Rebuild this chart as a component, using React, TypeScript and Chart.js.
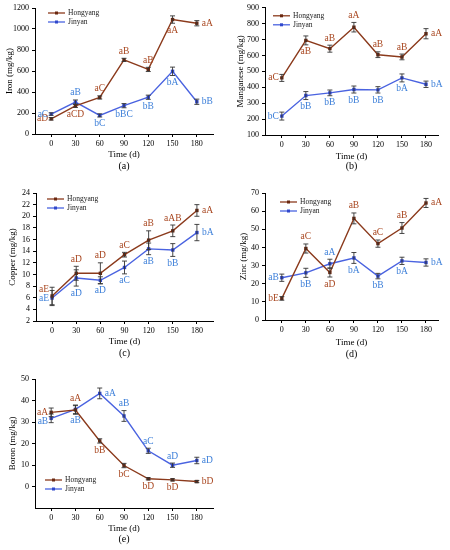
import { useEffect, useRef } from "react"
import { Chart, registerables, Plugin } from "chart.js"

Chart.register(...registerables)

const FONT = '"Liberation Serif", "Times New Roman", serif'

const days = [0, 30, 60, 90, 120, 150, 180]
const seriesNames = ["Hongyang", "Jinyan"]

// Iron (mg/kg)
const ironHongyang = [145, 268, 348, 706, 615, 1090, 1055]
const ironHongyangErr = [12, 15, 15, 15, 20, 35, 25]
const ironHongyangSig = ["aD", "aCD", "aC", "aB", "aB", "aA", "aA"]
const ironJinyan = [190, 304, 177, 270, 350, 597, 307]
const ironJinyanErr = [12, 20, 15, 20, 20, 40, 25]
const ironJinyanSig = ["aC", "aB", "bC", "bBC", "bB", "bA", "bB"]
const ironTicks = [0, 200, 400, 600, 800, 1000, 1200]

// Manganese (mg/kg)
const mnHongyang = [459, 695, 643, 778, 605, 591, 737]
const mnHongyangErr = [22, 28, 22, 30, 18, 18, 32]
const mnHongyangSig = ["aC", "aB", "aB", "aA", "aB", "aB", "aA"]
const mnJinyan = [219, 348, 365, 386, 384, 459, 419]
const mnJinyanErr = [25, 25, 18, 22, 20, 25, 20]
const mnJinyanSig = ["bC", "bB", "bB", "bB", "bB", "bA", "bA"]
const mnTicks = [100, 200, 300, 400, 500, 600, 700, 800, 900]

// Copper (mg/kg)
const cuHongyang = [6.3, 10.2, 10.2, 13.4, 15.9, 17.5, 21.0]
const cuHongyangErr = [1.5, 1.2, 1.8, 0.4, 1.6, 1.0, 1.0]
const cuHongyangSig = ["aE", "aD", "aD", "aC", "aB", "aAB", "aA"]
const cuJinyan = [5.95, 9.4, 9.0, 11.2, 14.4, 14.2, 17.2]
const cuJinyanErr = [1.3, 1.4, 0.6, 1.1, 1.0, 1.1, 1.4]
const cuJinyanSig = ["aE", "aD", "aD", "aC", "aB", "bB", "bA"]
const cuTicks = [2, 4, 6, 8, 10, 12, 14, 16, 18, 20, 22, 24]

// Zinc (mg/kg)
const znHongyang = [11.9, 39.4, 26.2, 56.0, 42.1, 50.7, 64.5]
const znHongyangErr = [1, 2.5, 2.5, 3, 2, 3, 2.5]
const znHongyangSig = ["bE", "aC", "aD", "aB", "aC", "aB", "aA"]
const znJinyan = [23.3, 26.0, 31.0, 34.2, 24.2, 32.6, 31.7]
const znJinyanErr = [2, 2.5, 2.5, 3, 1.5, 2, 2]
const znJinyanSig = ["aB", "bB", "aA", "bA", "bB", "bA", "bA"]
const znTicks = [0, 10, 20, 30, 40, 50, 60, 70]

// Boron (mg/kg)
const bHongyang = [34.5, 35.6, 21.2, 9.75, 3.6, 3.1, 2.3]
const bHongyangErr = [2, 2, 1, 1, 0.5, 0.5, 0.5]
const bHongyangSig = ["aA", "aA", "bB", "bC", "bD", "bD", "bD"]
const bJinyan = [31.7, 35.9, 43.3, 32.8, 16.6, 9.9, 12.1]
const bJinyanErr = [2, 2, 2.5, 2.5, 1.2, 1, 1.5]
const bJinyanSig = ["aB", "aB", "aA", "aB", "aC", "aD", "aD"]
const bTicks = [0, 10, 20, 30, 40, 50]

const hongyangLine = "#8b3a1c"
const hongyangMark = "#6a2810"
const hongyangText = "#a8461f"
const jinyanLine = "#4a63e0"
const jinyanMark = "#3048cc"
const jinyanText = "#3c7fd9"

// where each letter label sits around its point
type Place = "left" | "upleft" | "downleft" | "right" | "above" | "below"

const errorBars: Plugin<"line"> = {
  id: "errorBars",
  afterDatasetsDraw(chart) {
    const { ctx } = chart
    const yScale = chart.scales.y
    ctx.save()
    ctx.strokeStyle = "#333"
    ctx.lineWidth = 0.9
    chart.data.datasets.forEach((ds: any, i) => {
      const meta = chart.getDatasetMeta(i)
      meta.data.forEach((pt, j) => {
        const v = ds.data[j].y
        const e = ds.errors[j]
        const top = yScale.getPixelForValue(v + e)
        const bot = yScale.getPixelForValue(v - e)
        const x = pt.x
        ctx.beginPath()
        ctx.moveTo(x, top)
        ctx.lineTo(x, bot)
        ctx.moveTo(x - 2.5, top)
        ctx.lineTo(x + 2.5, top)
        ctx.moveTo(x - 2.5, bot)
        ctx.lineTo(x + 2.5, bot)
        ctx.stroke()
      })
    })
    ctx.restore()
  },
}

const sigLabels: Plugin<"line"> = {
  id: "sigLabels",
  afterDatasetsDraw(chart) {
    const { ctx } = chart
    const yScale = chart.scales.y
    ctx.save()
    ctx.font = `9.5px ${FONT}`
    ctx.textBaseline = "middle"
    chart.data.datasets.forEach((ds: any, i) => {
      const meta = chart.getDatasetMeta(i)
      ctx.fillStyle = ds.sigColor
      meta.data.forEach((pt, j) => {
        const v = ds.data[j].y
        const e = ds.errors[j]
        const errPx = Math.abs(yScale.getPixelForValue(v + e) - pt.y)
        const place: Place = ds.sigPlace[j]
        let x = pt.x
        let y = pt.y
        if (place === "left" || place === "upleft" || place === "downleft") {
          ctx.textAlign = "right"
          x -= 3
          if (place === "upleft") y -= 6
          if (place === "downleft") y += 3
        } else if (place === "right") {
          ctx.textAlign = "left"
          x += 5
        } else if (place === "above") {
          ctx.textAlign = "center"
          y -= errPx + 7
        } else {
          ctx.textAlign = "center"
          y += errPx + 7
        }
        ctx.fillText(ds.sig[j], x, y)
      })
    })
    ctx.restore()
  },
}

const cornerLegend: Plugin<"line"> = {
  id: "cornerLegend",
  afterDraw(chart, _args, opts: any) {
    const { ctx, chartArea } = chart
    const x0 = chartArea.left + opts.dx
    let y = chartArea.top + opts.dy
    ctx.save()
    chart.data.datasets.forEach((ds: any) => {
      ctx.strokeStyle = ds.borderColor
      ctx.lineWidth = 1.3
      ctx.beginPath()
      ctx.moveTo(x0, y)
      ctx.lineTo(x0 + 17, y)
      ctx.stroke()
      ctx.fillStyle = ds.pointBackgroundColor
      ctx.fillRect(x0 + 7, y - 1.5, 3, 3)
      ctx.fillStyle = "#222"
      ctx.font = `7.5px ${FONT}`
      ctx.textAlign = "left"
      ctx.textBaseline = "middle"
      ctx.fillText(ds.label, x0 + 20, y)
      y += 9
    })
    ctx.restore()
  },
}

interface PanelProps {
  yTitle: string
  caption: string
  hongyang: number[]
  hongyangErr: number[]
  hongyangSig: string[]
  hongyangPlace: Place[]
  jinyan: number[]
  jinyanErr: number[]
  jinyanSig: string[]
  jinyanPlace: Place[]
  yTicks: number[]
  yMin: number
  yMax: number
  xMin: number
  xMax: number
  box: { left: number; top: number; width: number; height: number }
  area: { left: number; top: number; right: number; bottom: number }
  yTitlePad: number
  xTitlePad: number
  legend: { dx: number; dy: number }
  captionY: number
}

function Panel(p: PanelProps) {
  const canvasRef = useRef<HTMLCanvasElement>(null)

  useEffect(() => {
    if (!canvasRef.current) return
    const toPoints = (vals: number[]) => days.map((d, i) => ({ x: d, y: vals[i] }))

    const chart = new Chart(canvasRef.current, {
      type: "line",
      data: {
        datasets: [
          {
            label: seriesNames[0],
            data: toPoints(p.hongyang),
            borderColor: hongyangLine,
            borderWidth: 1.4,
            pointStyle: "rect",
            pointRadius: 2.4,
            pointBackgroundColor: hongyangMark,
            pointBorderColor: hongyangMark,
            pointBorderWidth: 0,
            errors: p.hongyangErr,
            sig: p.hongyangSig,
            sigPlace: p.hongyangPlace,
            sigColor: hongyangText,
          } as any,
          {
            label: seriesNames[1],
            data: toPoints(p.jinyan),
            borderColor: jinyanLine,
            borderWidth: 1.4,
            pointStyle: "rect",
            pointRadius: 2.4,
            pointBackgroundColor: jinyanMark,
            pointBorderColor: jinyanMark,
            pointBorderWidth: 0,
            errors: p.jinyanErr,
            sig: p.jinyanSig,
            sigPlace: p.jinyanPlace,
            sigColor: jinyanText,
          } as any,
        ],
      },
      options: {
        responsive: false,
        animation: false,
        events: [],
        layout: {
          padding: { left: 0, top: p.area.top, right: p.box.width - p.area.right, bottom: 0 },
        },
        plugins: {
          legend: { display: false },
          tooltip: { enabled: false },
          cornerLegend: p.legend,
        } as any,
        scales: {
          x: {
            type: "linear",
            min: p.xMin,
            max: p.xMax,
            afterBuildTicks: (s: any) => {
              s.ticks = days.map((v) => ({ value: v }))
            },
            afterFit: (s: any) => {
              s.height = p.box.height - p.area.bottom
            },
            grid: { display: true, drawOnChartArea: false, drawTicks: true, tickLength: 3, color: "#000" },
            border: { display: true, color: "#000", width: 1 },
            ticks: {
              font: { family: FONT, size: 8 },
              color: "#000",
              padding: 2,
              maxRotation: 0,
              autoSkip: false,
              callback: (v: any) => String(v),
            },
            title: {
              display: true,
              text: "Time (d)",
              font: { family: FONT, size: 9 },
              color: "#000",
              padding: { top: 0, bottom: p.xTitlePad },
            },
          },
          y: {
            min: p.yMin,
            max: p.yMax,
            afterBuildTicks: (s: any) => {
              s.ticks = p.yTicks.map((v) => ({ value: v }))
            },
            afterFit: (s: any) => {
              s.width = p.area.left
            },
            grid: { display: true, drawOnChartArea: false, drawTicks: true, tickLength: 3, color: "#000" },
            border: { display: true, color: "#000", width: 1 },
            ticks: {
              font: { family: FONT, size: 8 },
              color: "#000",
              padding: 3,
              autoSkip: false,
              callback: (v: any) => String(v),
            },
            title: {
              display: true,
              text: p.yTitle,
              font: { family: FONT, size: 9 },
              color: "#000",
              padding: { top: p.yTitlePad, bottom: 0 },
            },
          },
        },
      },
      plugins: [errorBars, sigLabels, cornerLegend],
    })

    return () => chart.destroy()
  }, [])

  const centerX = p.box.left + (p.area.left + p.area.right) / 2
  return (
    <>
      <canvas
        ref={canvasRef}
        width={p.box.width}
        height={p.box.height}
        style={{ position: "absolute", left: p.box.left, top: p.box.top }}
      />
      <div
        style={{
          position: "absolute",
          left: centerX - 20,
          width: 40,
          top: p.captionY - 6,
          height: 12,
          lineHeight: "12px",
          textAlign: "center",
          fontFamily: FONT,
          fontSize: 10,
          color: "#000",
        }}
      >
        {p.caption}
      </div>
    </>
  )
}

export default function App() {
  return (
    <div style={{ position: "fixed", left: 0, top: 0, width: 450, height: 550, background: "#fff" }}>
      <Panel
        yTitle="Iron (mg/kg)"
        caption="(a)"
        hongyang={ironHongyang}
        hongyangErr={ironHongyangErr}
        hongyangSig={ironHongyangSig}
        hongyangPlace={["left", "below", "above", "above", "above", "below", "right"]}
        jinyan={ironJinyan}
        jinyanErr={ironJinyanErr}
        jinyanSig={ironJinyanSig}
        jinyanPlace={["left", "above", "below", "below", "below", "below", "right"]}
        yTicks={ironTicks}
        yMin={0}
        yMax={1200}
        xMin={-20}
        xMax={200}
        box={{ left: 0, top: 0, width: 225, height: 180 }}
        area={{ left: 35, top: 8, right: 213, bottom: 134 }}
        yTitlePad={4.6}
        xTitlePad={19.6}
        legend={{ dx: 13, dy: 5 }}
        captionY={166}
      />
      <Panel
        yTitle="Manganese (mg/kg)"
        caption="(b)"
        hongyang={mnHongyang}
        hongyangErr={mnHongyangErr}
        hongyangSig={mnHongyangSig}
        hongyangPlace={["left", "below", "above", "above", "above", "above", "right"]}
        jinyan={mnJinyan}
        jinyanErr={mnJinyanErr}
        jinyanSig={mnJinyanSig}
        jinyanPlace={["left", "below", "below", "below", "below", "below", "right"]}
        yTicks={mnTicks}
        yMin={100}
        yMax={900}
        xMin={-21}
        xMax={195}
        box={{ left: 225, top: 0, width: 225, height: 180 }}
        area={{ left: 40, top: 7, right: 213, bottom: 135 }}
        yTitlePad={10.6}
        xTitlePad={17.6}
        legend={{ dx: 8, dy: 8 }}
        captionY={166}
      />
      <Panel
        yTitle="Copper (mg/kg)"
        caption="(c)"
        hongyang={cuHongyang}
        hongyangErr={cuHongyangErr}
        hongyangSig={cuHongyangSig}
        hongyangPlace={["upleft", "above", "above", "above", "above", "above", "right"]}
        jinyan={cuJinyan}
        jinyanErr={cuJinyanErr}
        jinyanSig={cuJinyanSig}
        jinyanPlace={["left", "below", "below", "below", "below", "below", "right"]}
        yTicks={cuTicks}
        yMin={2}
        yMax={24}
        xMin={-20}
        xMax={200}
        box={{ left: 0, top: 180, width: 225, height: 185 }}
        area={{ left: 36, top: 13, right: 213, bottom: 141 }}
        yTitlePad={7.3}
        xTitlePad={17.6}
        legend={{ dx: 11, dy: 6 }}
        captionY={353}
      />
      <Panel
        yTitle="Zinc (mg/kg)"
        caption="(d)"
        hongyang={znHongyang}
        hongyangErr={znHongyangErr}
        hongyangSig={znHongyangSig}
        hongyangPlace={["left", "above", "below", "above", "above", "above", "right"]}
        jinyan={znJinyan}
        jinyanErr={znJinyanErr}
        jinyanSig={znJinyanSig}
        jinyanPlace={["left", "below", "above", "below", "below", "below", "right"]}
        yTicks={znTicks}
        yMin={0}
        yMax={70}
        xMin={-21}
        xMax={195}
        box={{ left: 225, top: 180, width: 225, height: 185 }}
        area={{ left: 40, top: 13, right: 213, bottom: 140 }}
        yTitlePad={13.6}
        xTitlePad={17.3}
        legend={{ dx: 15, dy: 9 }}
        captionY={354}
      />
      <Panel
        yTitle="Boron (mg/kg)"
        caption="(e)"
        hongyang={bHongyang}
        hongyangErr={bHongyangErr}
        hongyangSig={bHongyangSig}
        hongyangPlace={["left", "above", "below", "below", "below", "below", "right"]}
        jinyan={bJinyan}
        jinyanErr={bJinyanErr}
        jinyanSig={bJinyanSig}
        jinyanPlace={["downleft", "below", "right", "above", "above", "above", "right"]}
        yTicks={bTicks}
        yMin={-10}
        yMax={50}
        xMin={-20}
        xMax={200}
        box={{ left: 0, top: 365, width: 225, height: 185 }}
        area={{ left: 35, top: 14, right: 213, bottom: 143 }}
        yTitlePad={7.3}
        xTitlePad={15.6}
        legend={{ dx: 10, dy: 101 }}
        captionY={539}
      />
    </div>
  )
}
